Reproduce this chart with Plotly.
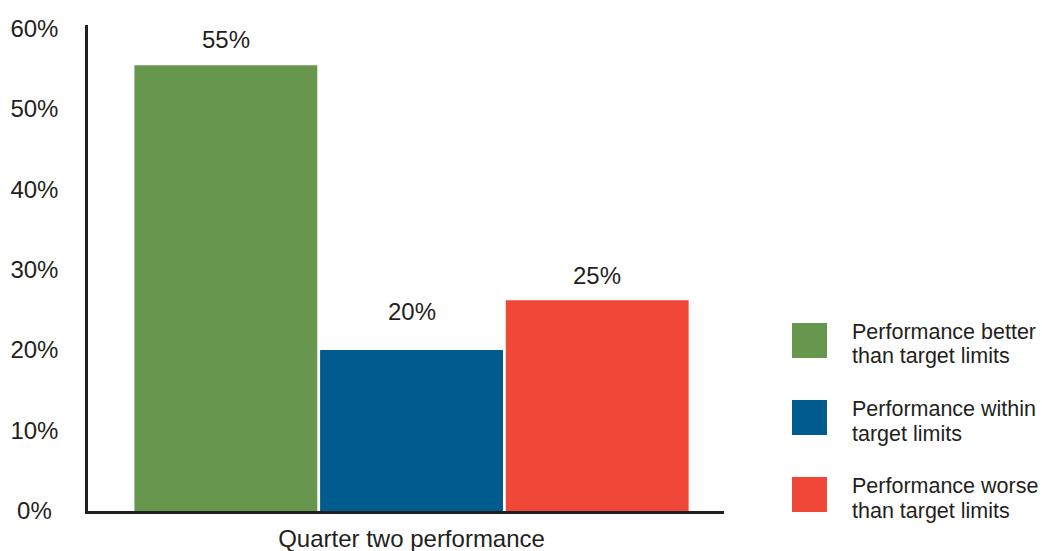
import plotly.graph_objects as go

# ---------------- data ----------------
category = ["Quarter two performance"]
series_names = [
    "Performance better than target limits",
    "Performance within target limits",
    "Performance worse than target limits",
]
series_values = [55.4, 20.0, 26.2]
value_labels = ["55%", "20%", "25%"]
tick_values = [0, 10, 20, 30, 40, 50, 60]
tick_labels = ["0%", "10%", "20%", "30%", "40%", "50%", "60%"]

# ---------------- style ----------------
colors = ["#67974D", "#005C8F", "#F04838"]
ink = "#231F20"
font_family = "Liberation Sans, Arial, Helvetica, sans-serif"
W, H = 1042, 551
ML, MR, MT, MB = 88, 318, 25, 40
BARGAP = 0.1242
BARGROUPGAP = 0.015
label_lift_px = [26, 39, 25]

plot_w = W - ML - MR
plot_h = H - MT - MB


def px_to_paper_x(px):
    return (px - ML) / plot_w


def px_to_paper_y(py):
    return (H - MB - py) / plot_h


fig = go.Figure()
for name, val, col in zip(series_names, series_values, colors):
    fig.add_trace(go.Bar(
        x=category, y=[val], name=name,
        marker=dict(color=col, line=dict(width=0)),
        showlegend=False, hoverinfo="name+y",
    ))

# value labels above bars, centred on each grouped bar
n = len(series_values)
group_w = 1 - BARGAP
slot = group_w / n
annotations = []
for i, (val, lab) in enumerate(zip(series_values, value_labels)):
    cx = -group_w / 2 + slot * (i + 0.5)
    annotations.append(dict(
        x=cx, y=val, xref="x", yref="y", text=lab, showarrow=False,
        xanchor="center", yanchor="middle", yshift=label_lift_px[i],
        font=dict(family=font_family, size=24, color=ink),
    ))

# custom legend (large square swatches with two-line labels)
shapes = []
row_top0 = 323
row_step = 77
for i, (name, col) in enumerate(zip(series_names, colors)):
    top = row_top0 + i * row_step
    shapes.append(dict(
        type="rect", xref="paper", yref="paper",
        x0=px_to_paper_x(792), x1=px_to_paper_x(827),
        y0=px_to_paper_y(top + 35), y1=px_to_paper_y(top),
        fillcolor=col, line=dict(width=0), layer="above",
    ))
    words = name.split(" ")
    lines = [" ".join(words[:2]), " ".join(words[2:])]
    for j, line in enumerate(lines):
        annotations.append(dict(
            x=px_to_paper_x(850), y=px_to_paper_y(top + 9 + j * 24.5),
            xref="paper", yref="paper", text=line, showarrow=False,
            xanchor="left", yanchor="middle",
            font=dict(family=font_family, size=21.5, color=ink),
        ))

# pad short tick labels so they look centred like the reference
ticktext = [t + ("&nbsp;" if len(t) < 3 else "") for t in tick_labels]

fig.update_layout(
    template="none",
    width=W, height=H,
    margin=dict(l=ML, r=MR, t=MT, b=MB, pad=0, autoexpand=False),
    paper_bgcolor="white", plot_bgcolor="white",
    barmode="group", bargap=BARGAP, bargroupgap=BARGROUPGAP,
    font=dict(family=font_family, color=ink),
    shapes=shapes, annotations=annotations,
    xaxis=dict(
        type="category", range=[-0.5087, 0.4913], automargin=False,
        showline=True, linecolor=ink, linewidth=2.5,
        ticks="", showgrid=False, zeroline=False,
        tickfont=dict(family=font_family, size=24, color=ink),
        ticklabelstandoff=4,
    ),
    yaxis=dict(
        range=[0, 60.4], tickvals=tick_values, ticktext=ticktext,
        automargin=False,
        showline=True, linecolor=ink, linewidth=2.5,
        ticks="", showgrid=False, zeroline=False,
        tickfont=dict(family=font_family, size=24, color=ink),
        ticklabelstandoff=22,
    ),
)

fig.write_html(
    "out.html",
    config={"displayModeBar": False},
    post_script="document.body.style.margin='0';document.body.style.overflow='hidden';",
)
